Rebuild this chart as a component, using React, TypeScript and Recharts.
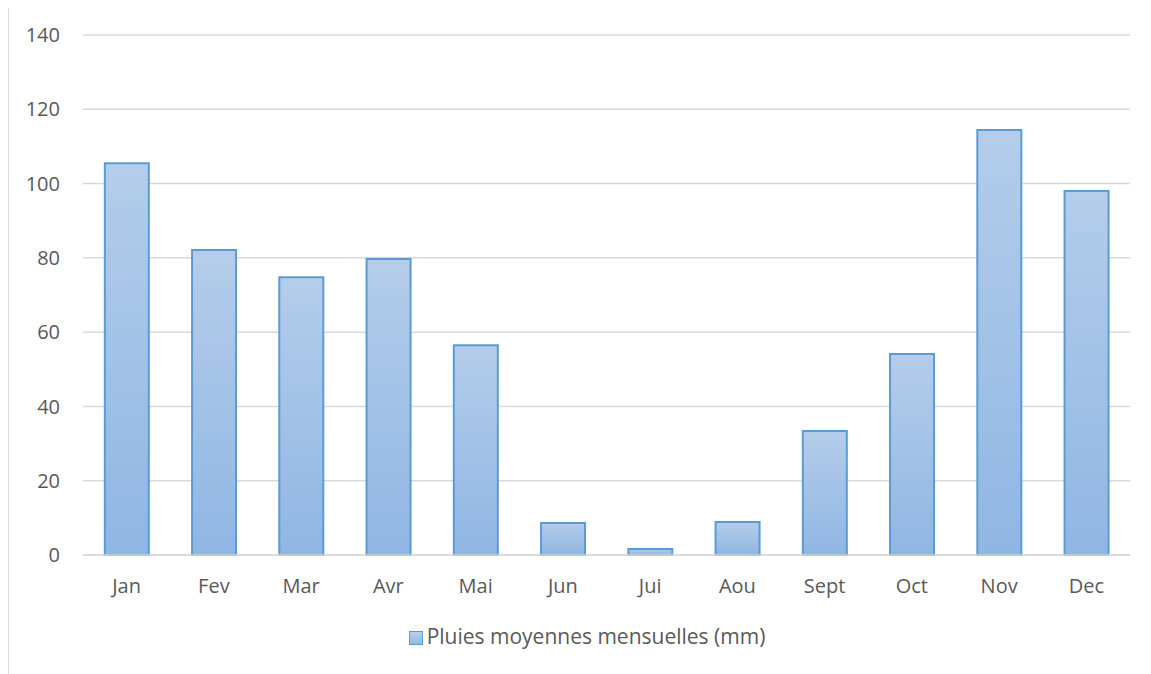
import { BarChart, Bar, XAxis, YAxis, CartesianGrid, Legend } from 'recharts';

const months = ['Jan', 'Fev', 'Mar', 'Avr', 'Mai', 'Jun', 'Jui', 'Aou', 'Sept', 'Oct', 'Nov', 'Dec'];
const rainfall = [105.5, 82.1, 74.8, 79.7, 56.5, 8.6, 1.6, 8.9, 33.4, 54.1, 114.4, 98.0];
const yTicks = [0, 20, 40, 60, 80, 100, 120, 140];

const seriesName = 'Pluies moyennes mensuelles (mm)';
const data = months.map((m, i) => ({ month: m, pluie: rainfall[i] }));

const textColor = '#595959';
const font = '"Open Sans", "Liberation Sans", sans-serif';
const fontSize = 20;

function LegendBox() {
  return (
    <div
      style={{
        height: 69,
        boxSizing: 'border-box',
        paddingTop: 17,
        paddingLeft: 36,
        display: 'flex',
        justifyContent: 'center',
        alignItems: 'flex-start',
        fontFamily: font,
        fontSize: 21,
        color: textColor,
      }}
    >
      <span
        style={{
          display: 'inline-block',
          width: 12,
          height: 12,
          marginTop: 9,
          marginRight: 4,
          border: '1.5px solid #5b9bd5',
          background: 'linear-gradient(#b7d0ec, #93b8e4)',
        }}
      />
      {seriesName}
    </div>
  );
}

export default function App() {
  return (
    <div style={{ position: 'relative', width: 1143, height: 666 }}>
      {/* chart frame */}
      <div
        style={{
          position: 'absolute',
          left: -1,
          top: -2,
          width: 1160,
          height: 680,
          borderLeft: '2px solid #d9d9d9',
          borderTop: '2px solid #d9d9d9',
        }}
      />
      <div style={{ position: 'absolute', left: 0, top: -1 }}>
        <BarChart
          width={1143}
          height={667}
          data={data}
          margin={{ top: 28, right: 21, left: 0, bottom: 0 }}
          barCategoryGap="25%"
          style={{ fontFamily: font }}
        >
          <defs>
            <linearGradient id="barFill" x1="0" y1="0" x2="0" y2="1">
              <stop offset="0%" stopColor="#b4cdea" />
              <stop offset="100%" stopColor="#90b6e4" />
            </linearGradient>
          </defs>
          <CartesianGrid vertical={false} stroke="#d9d9d9" strokeWidth={1.5} />
          <XAxis
            dataKey="month"
            axisLine={{ stroke: '#d9d9d9', strokeWidth: 1.5 }}
            tickLine={false}
            tick={{ fill: textColor, fontSize }}
            tickMargin={18}
            height={50}
          />
          <YAxis
            domain={[0, 140]}
            ticks={yTicks}
            axisLine={false}
            tickLine={false}
            tick={{ fill: textColor, fontSize }}
            tickMargin={17}
            width={75}
          />
          <Legend verticalAlign="bottom" height={69} content={() => <LegendBox />} />
          <Bar
            dataKey="pluie"
            name={seriesName}
            fill="url(#barFill)"
            stroke="#5b9bd5"
            strokeWidth={2}
            isAnimationActive={false}
          />
        </BarChart>
      </div>
    </div>
  );
}
